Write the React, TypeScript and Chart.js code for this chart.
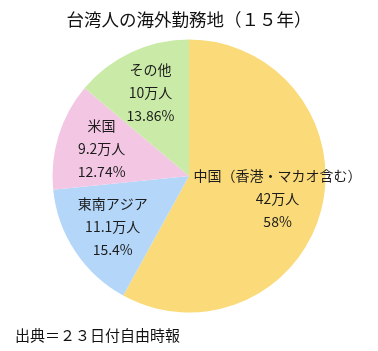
import React, { useEffect, useRef } from "react";
import { Chart, registerables } from "chart.js";

Chart.register(...registerables);

const categories = ["中国（香港・マカオ含む）", "東南アジア", "米国", "その他"];
const workers = ["42万人", "11.1万人", "9.2万人", "10万人"];
const percents = [58, 15.4, 12.74, 13.86];
const percentLabels = ["58%", "15.4%", "12.74%", "13.86%"];
const colors = ["#FADA79", "#B4D7F9", "#F3C7E4", "#CAEBA7"];
const titleText = "台湾人の海外勤務地（１５年）";
const sourceText = "出典＝２３日付自由時報";

const FONT = "'Noto Sans CJK JP', 'Noto Sans', sans-serif";

const labelPlugin = {
  id: "sliceLabels",
  afterDatasetsDraw(chart: any) {
    const ctx = chart.ctx;
    const meta = chart.getDatasetMeta(0);
    ctx.save();
    ctx.fillStyle = "#1c1c1c";
    ctx.font = `14px ${FONT}`;
    ctx.textAlign = "center";
    ctx.textBaseline = "middle";
    meta.data.forEach((arc: any, i: number) => {
      const { x, y, startAngle, endAngle, outerRadius } = arc.getProps(
        ["x", "y", "startAngle", "endAngle", "outerRadius"],
        true
      );
      const mid = (startAngle + endAngle) / 2;
      const r = outerRadius * 0.67;
      const cx = x + Math.cos(mid) * r;
      const cy = y + Math.sin(mid) * r;
      const lines = [categories[i], workers[i], percentLabels[i]];
      const lh = 23;
      lines.forEach((t, k) => {
        ctx.fillText(t, cx, cy + (k - 1) * lh);
      });
    });
    // source footer
    ctx.textAlign = "left";
    ctx.font = `15px ${FONT}`;
    ctx.fillStyle = "#111";
    ctx.fillText(sourceText, 15, 335);
    ctx.restore();
  },
};

export default function App() {
  const ref = useRef<HTMLCanvasElement>(null);
  useEffect(() => {
    document.body.style.margin = "0";
    const chart = new Chart(ref.current!, {
      type: "pie",
      data: {
        labels: categories,
        datasets: [
          {
            data: percents,
            backgroundColor: colors,
            borderWidth: 0,
          },
        ],
      },
      options: {
        animation: false,
        responsive: false,
        layout: { padding: { left: 0, right: 0, top: 0, bottom: 38.5 } },
        plugins: {
          legend: { display: false },
          tooltip: { enabled: false },
          title: {
            display: true,
            text: titleText,
            color: "#111",
            font: { family: FONT, size: 17.5, weight: "normal", lineHeight: 1.2 },
            padding: { top: 9, bottom: 9.5 },
          },
        },
      },
      plugins: [labelPlugin],
    });
    return () => chart.destroy();
  }, []);
  return (
    <div style={{ width: 378, height: 351, background: "#fff" }}>
      <canvas ref={ref} width={378} height={351} style={{ display: "block" }} />
    </div>
  );
}
